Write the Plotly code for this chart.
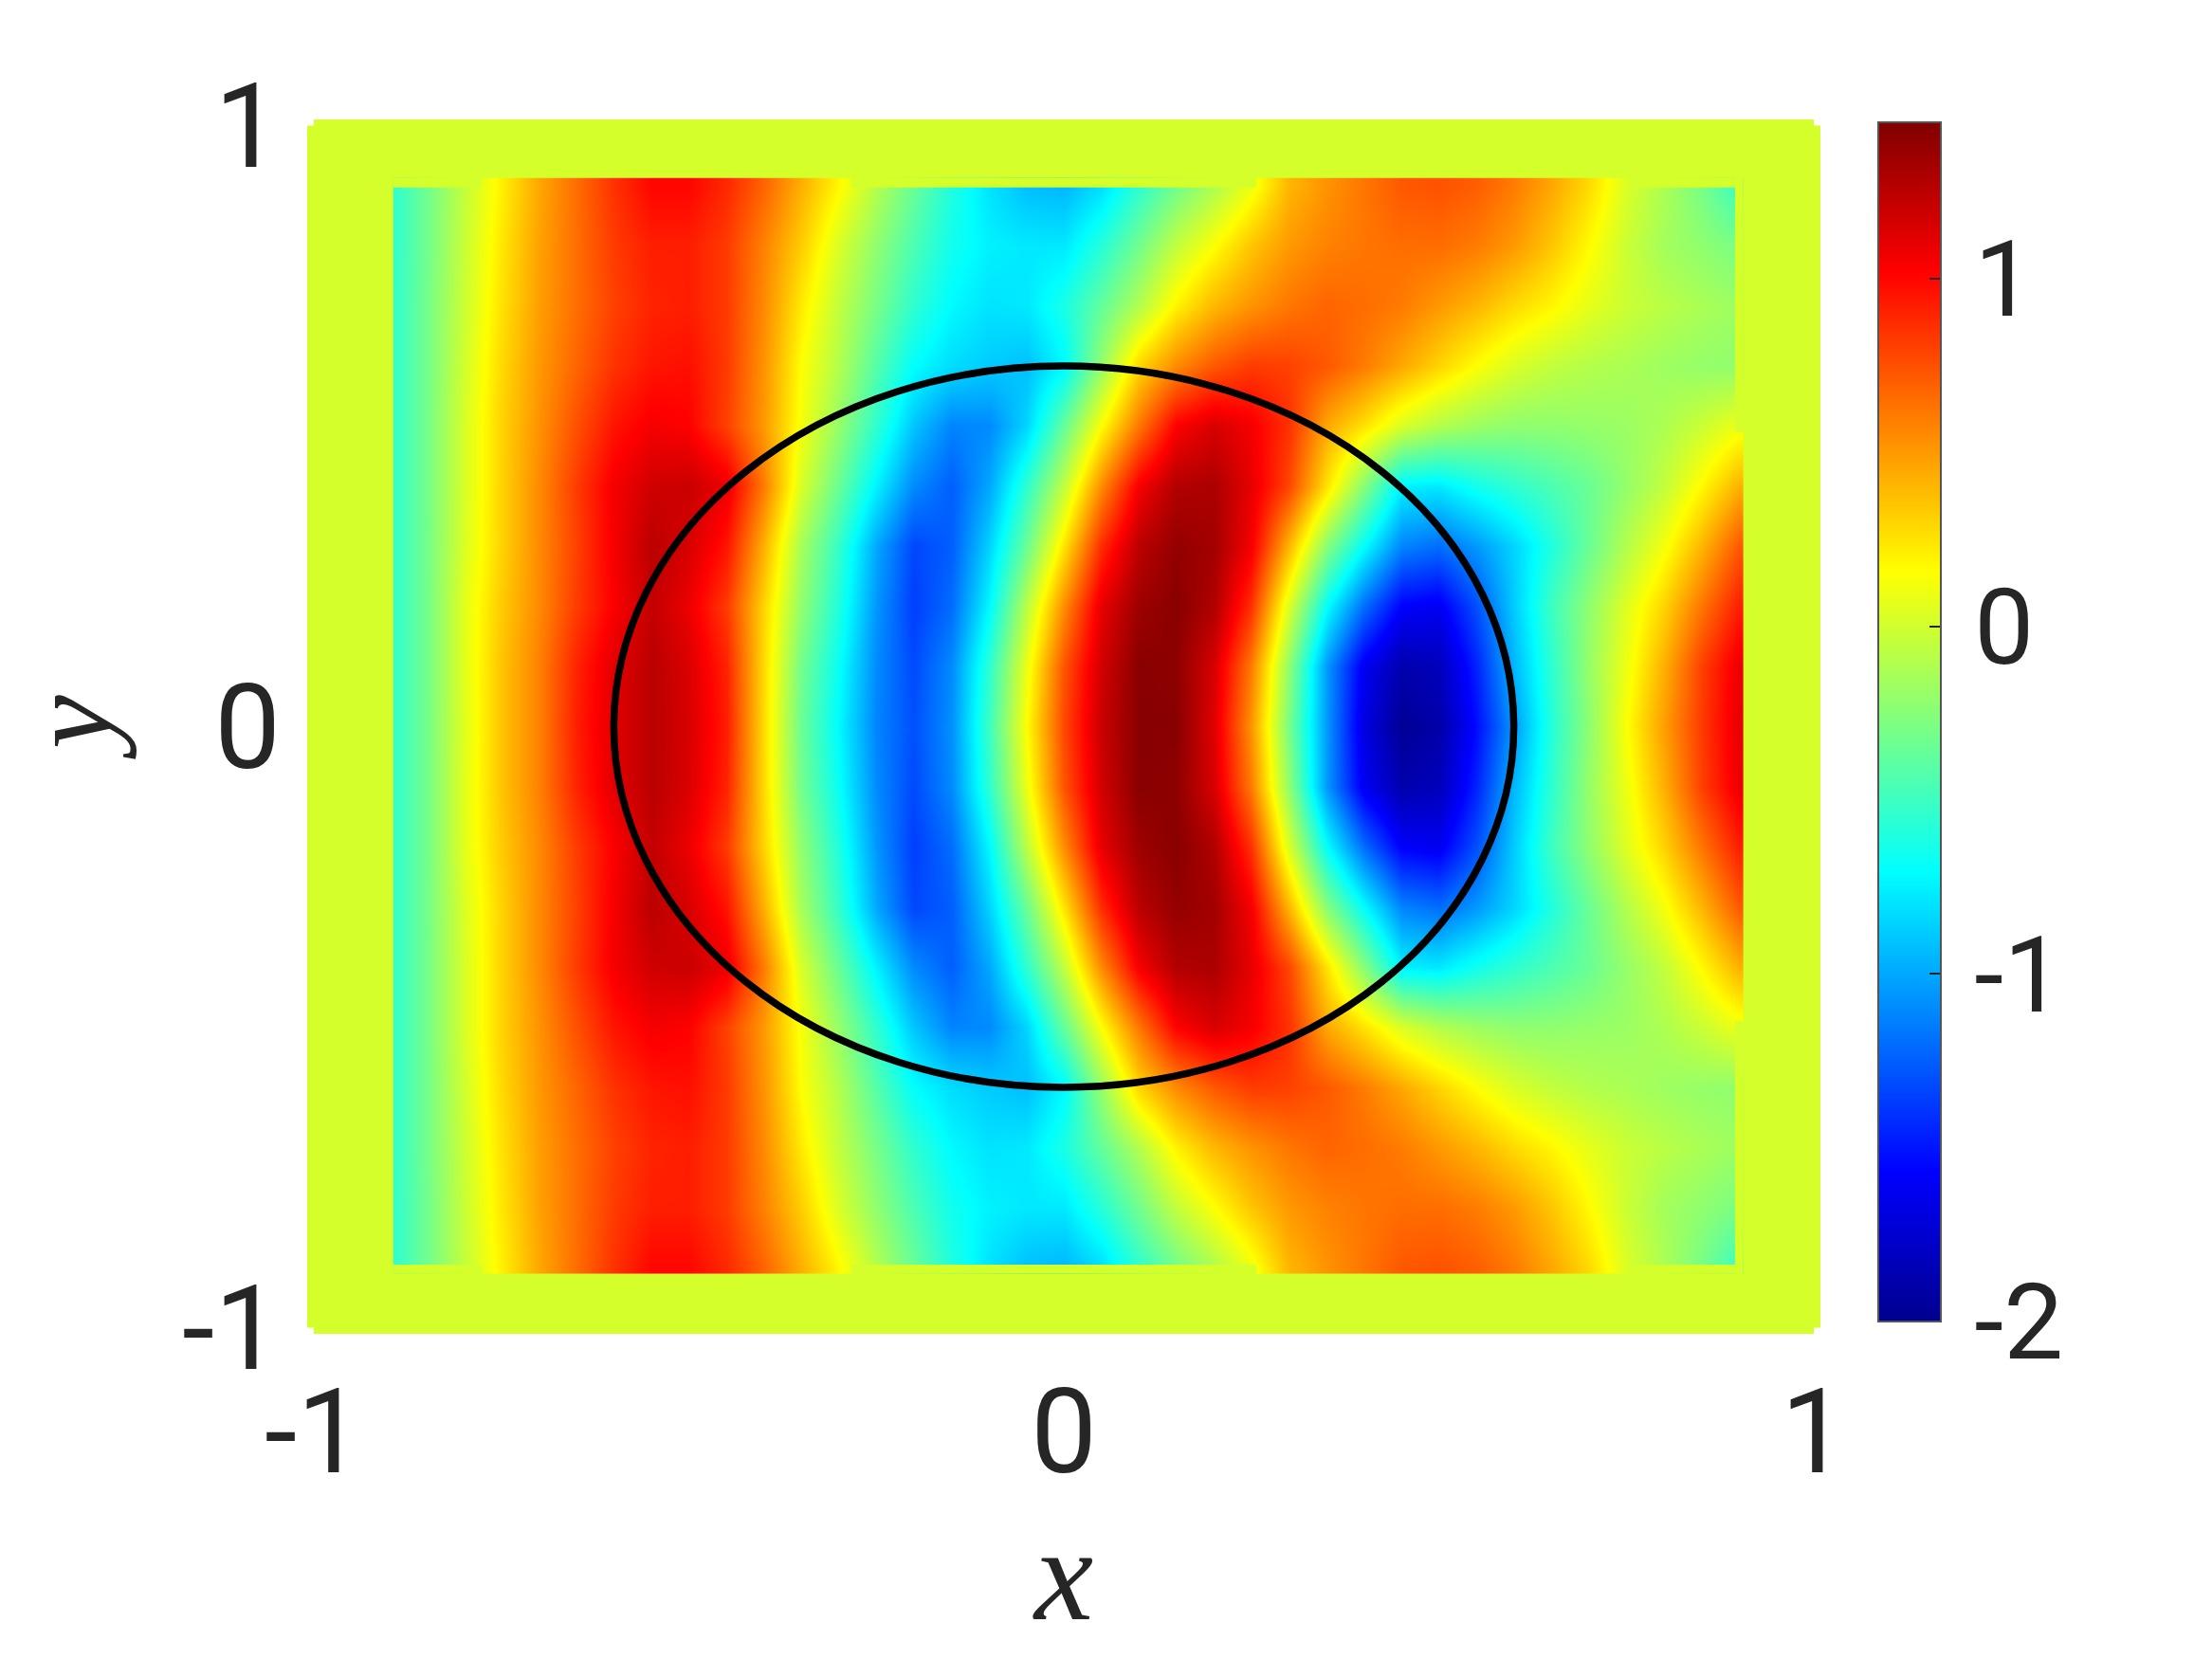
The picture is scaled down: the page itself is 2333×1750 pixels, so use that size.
import plotly.graph_objects as go

# Field values: columns are x_values, rows are y_rows (upper half,
# the field is mirror-symmetric about y = 0).
x_values = [-0.90, -0.85, -0.80, -0.75, -0.70, -0.65, -0.60, -0.55, -0.50, -0.45, -0.40, -0.35, -0.30,
            -0.25, -0.20, -0.15, -0.10, -0.05, 0.00, 0.05, 0.10, 0.15, 0.20, 0.25, 0.30, 0.35, 0.40,
            0.45, 0.50, 0.55, 0.60, 0.65, 0.70, 0.75, 0.80, 0.85, 0.90]
y_rows = [0.0, 0.1, 0.2, 0.3, 0.4, 0.5, 0.6, 0.7, 0.8, 0.9]

row_00 = [-.58, -.32, .05, .35, .58, .92, 1.12, 1.25, 1.15, .92, .28, -.35, -.72, -1.12, -1.3, -1.08, -.5, .15, .78,
          1.2, 1.42, 1.42, 1.12, .52, -.3, -1.05, -1.68, -1.97, -1.9, -1.53, -1.05, -.58, -.23, .15, .48, .82, 1.1]
row_01 = [-.58, -.32, .06, .35, .58, .9, 1.12, 1.25, 1.14, .9, .28, -.32, -.68, -1.1, -1.32, -1.1, -.55, .09, .74,
          1.17, 1.42, 1.4, 1.15, .6, -.22, -1.05, -1.62, -1.88, -1.83, -1.45, -.95, -.55, -.2, .1, .42, .8, 1.08]
row_02 = [-.58, -.32, .06, .33, .55, .82, 1.03, 1.22, 1.08, .82, .3, -.22, -.6, -1.06, -1.36, -1.2, -.72, -.08, .55,
          1.1, 1.35, 1.42, 1.28, .85, .03, -.7, -1.2, -1.58, -1.62, -1.3, -.88, -.5, -.22, .05, .3, .62, .92]
row_03 = [-.58, -.32, .03, .3, .55, .8, 1.05, 1.25, 1.15, .95, .42, -.15, -.53, -1.0, -1.33, -1.25, -.85, -.35, .25,
          .87, 1.25, 1.38, 1.33, 1.05, .4, -.25, -.7, -1.12, -1.2, -1.05, -.85, -.6, -.35, -.1, .12, .4, .72]
row_04 = [-.58, -.32, .02, .3, .55, .82, 1.05, 1.18, 1.2, 1.08, .6, .02, -.35, -.75, -1.1, -1.25, -1.0, -.55, -.05,
          .55, 1.05, 1.28, 1.3, 1.1, .78, .25, -.25, -.75, -.78, -.65, -.55, -.45, -.35, -.2, -.05, .17, .42]
row_05 = [-.58, -.32, .02, .3, .52, .75, .95, 1.05, 1.02, .8, .5, .12, -.2, -.55, -.9, -1.12, -1.1, -.85, -.36,
          .15, .62, 1.02, 1.15, 1.05, .85, .45, .25, .03, -.1, -.18, -.22, -.22, -.2, -.18, -.12, -.02, .1]
row_06 = [-.58, -.32, .0, .28, .5, .68, .85, .95, .97, .82, .52, .15, -.1, -.42, -.7, -.82, -.88, -.92, -.72,
          -.2, .3, .55, .72, .82, .8, .72, .6, .45, .3, .15, .03, -.05, -.1, -.13, -.17, -.2, -.22]
row_07 = [-.58, -.32, -.02, .25, .48, .65, .8, .9, .92, .82, .55, .22, -.05, -.3, -.55, -.72, -.8, -.78, -.62,
          -.37, -.1, .2, .4, .52, .62, .68, .65, .6, .5, .4, .28, .18, .07, -.02, -.08, -.13, -.18]
row_08 = [-.58, -.33, -.03, .23, .47, .65, .82, .92, .92, .82, .58, .32, .03, -.22, -.45, -.65, -.75, -.78, -.78,
          -.58, -.32, -.05, .15, .35, .5, .58, .62, .65, .65, .6, .5, .35, .17, -.02, -.15, -.22, -.3]
row_09 = [-.58, -.33, -.05, .2, .45, .65, .85, 1.0, 1.0, .88, .68, .42, .18, -.1, -.35, -.6, -.8, -.92, -.95,
          -.82, -.55, -.32, -.12, .1, .4, .52, .62, .72, .74, .7, .6, .45, .28, .03, -.12, -.3, -.52]
upper_rows = [row_00, row_01, row_02, row_03, row_04, row_05, row_06, row_07, row_08, row_09]

axis_ticks = [-1, 0, 1]
axis_tick_labels = ["-1", "0", "1"]
bar_ticks = [-2, -1, 0, 1]
bar_tick_labels = ["\u200a-2", "\u200a-1", "\u200a0", "\u200a1"]
z_min, z_max = -2.0, 1.45
circle_radius = 0.6

# Edge of the visible field, in data units
field_left, field_right, field_top, field_bottom = -0.894, 0.895, 0.897, -0.895
ext_right, ext_top, ext_bottom, ext_half_height = 0.906, 0.913, -0.91, 0.49
ext_x_spans = [(-0.776, -0.283), (0.257, 0.761)]

BG = "#D4FF2A"
INK = "#262626"
x_lim, y_lim = 1.00885, 1.0102

jet = [[0.0, "rgb(0,0,143)"], [0.125, "rgb(0,0,255)"], [0.375, "rgb(0,255,255)"],
       [0.625, "rgb(255,255,0)"], [0.875, "rgb(255,0,0)"], [1.0, "rgb(128,0,0)"]]

y_full = [-v for v in reversed(y_rows[1:])] + y_rows
z_full = list(reversed(upper_rows[1:])) + upper_rows


def rect(x0, x1, y0, y1, layer="above", color=BG):
    return dict(type="rect", xref="x", yref="y", x0=x0, x1=x1, y0=y0, y1=y1, layer=layer,
                fillcolor=color, line_width=0)


shapes = [rect(-x_lim, x_lim, -y_lim, y_lim, layer="below"),
          rect(-x_lim, field_left, -y_lim, y_lim),
          rect(ext_right, x_lim, -y_lim, y_lim),
          rect(field_right, ext_right, ext_half_height, y_lim),
          rect(field_right, ext_right, -y_lim, -ext_half_height),
          rect(-x_lim, x_lim, ext_top, y_lim),
          rect(-x_lim, x_lim, -y_lim, ext_bottom)]
gap_edges = [field_left, ext_x_spans[0][0], ext_x_spans[0][1], ext_x_spans[1][0], ext_x_spans[1][1], field_right]
for i in range(0, len(gap_edges), 2):
    shapes.append(rect(gap_edges[i], gap_edges[i + 1], field_top, ext_top))
    shapes.append(rect(gap_edges[i], gap_edges[i + 1], ext_bottom, field_bottom))
# small white corner notches
for sx in (-1, 1):
    for sy in (-1, 1):
        shapes.append(rect(sx * 1.0, sx * x_lim, sy * 1.0, sy * y_lim, color="white"))
shapes.append(dict(type="circle", xref="x", yref="y", x0=-circle_radius, x1=circle_radius,
                   y0=-circle_radius, y1=circle_radius, layer="above",
                   line=dict(color="black", width=7.5), fillcolor="rgba(0,0,0,0)"))

fig = go.Figure(go.Heatmap(
    x=x_values, y=y_full, z=z_full, zmin=z_min, zmax=z_max, zsmooth="best", colorscale=jet,
    colorbar=dict(
        thickness=66, thicknessmode="pixels", len=1265, lenmode="pixels",
        x=1.0382, xanchor="left", y=0.5039, yanchor="middle", xpad=0, ypad=0,
        outlinecolor="#555555", outlinewidth=2,
        ticks="inside", ticklen=13, tickwidth=2, tickcolor=INK,
        tickmode="array", tickvals=bar_ticks, ticktext=bar_tick_labels,
        tickfont=dict(family="Roboto", size=112, color=INK),
    ),
))

axis_common = dict(tickmode="array", tickvals=axis_ticks, ticktext=axis_tick_labels,
                   tickfont=dict(family="Roboto", size=124, color=INK),
                   showgrid=False, zeroline=False, showline=False, ticks="", automargin=False)
fig.update_xaxes(range=[-x_lim, x_lim], ticklabelstandoff=21,
                 title=dict(text="<i>x</i>", font=dict(family="Liberation Serif", size=140, color=INK), standoff=24),
                 **axis_common)
fig.update_yaxes(range=[-y_lim, y_lim], ticklabelstandoff=27, **axis_common)
fig.update_layout(width=2333, height=1750, autosize=False, paper_bgcolor="white", plot_bgcolor="white",
                  margin=dict(l=316, r=421, t=118, b=351, pad=0), shapes=shapes, showlegend=False,
                  annotations=[dict(text="<i>y</i>", xref="paper", yref="paper", x=-0.157, y=0.5,
                                    xanchor="center", yanchor="middle", textangle=-90, showarrow=False,
                                    font=dict(family="Liberation Serif", size=128, color=INK))])
fig.write_html("out.html")
